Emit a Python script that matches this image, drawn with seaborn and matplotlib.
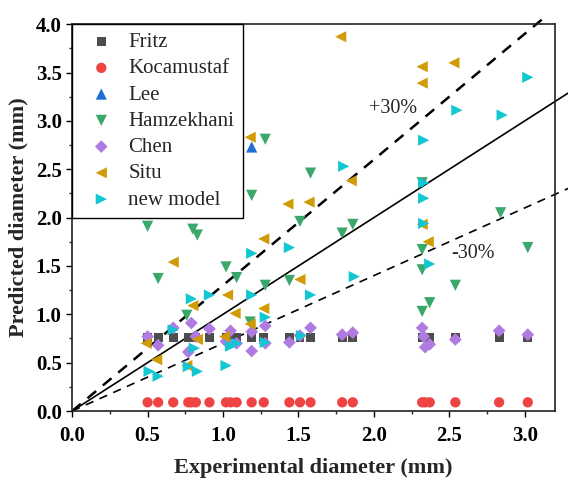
import numpy as np
import pandas as pd
import matplotlib
matplotlib.use("Agg")
import matplotlib.pyplot as plt
import seaborn as sns
from matplotlib.ticker import MultipleLocator

# ---------------- data ----------------
exp_x = [0.50, 0.57, 0.67, 0.77, 0.79, 0.82, 0.91, 1.02, 1.05, 1.09, 1.19, 1.27,
         1.44, 1.51, 1.58, 1.79, 1.86, 2.32, 2.34, 2.37, 2.54, 2.83, 3.02]

fritz_x = exp_x
fritz_y = [0.76] * len(exp_x)

koca_x = exp_x
koca_y = [0.09] * len(exp_x)

lee_x = [1.19]
lee_y = [2.73]

hamz_x = [0.50, 0.57, 0.76, 0.80, 0.83, 1.02, 1.09, 1.18, 1.19, 1.28, 1.28, 1.44,
          1.51, 1.58, 1.79, 1.86, 2.32, 2.32, 2.32, 2.32, 2.37, 2.54, 2.84, 3.02]
hamz_y = [1.91, 1.37, 0.99, 1.88, 1.82, 1.49, 1.38, 0.92, 2.23, 2.81, 1.30, 1.35,
          1.96, 2.46, 1.84, 1.93, 2.36, 1.67, 1.46, 1.03, 1.12, 1.30, 2.05, 1.69]

chen_x = [0.50, 0.57, 0.67, 0.77, 0.79, 0.82, 0.91, 1.02, 1.05, 1.09, 1.19, 1.19,
          1.28, 1.28, 1.44, 1.51, 1.58, 1.79, 1.86, 2.32, 2.33, 2.34, 2.37, 2.54,
          2.83, 3.02]
chen_y = [0.77, 0.68, 0.86, 0.61, 0.91, 0.77, 0.85, 0.72, 0.83, 0.70, 0.62, 0.82,
          0.88, 0.70, 0.71, 0.78, 0.86, 0.79, 0.81, 0.86, 0.77, 0.66, 0.69, 0.74,
          0.83, 0.79]

situ_x = [0.49, 0.56, 0.67, 0.76, 0.80, 0.83, 1.01, 1.03, 1.08, 1.18, 1.18, 1.27,
          1.27, 1.43, 1.51, 1.57, 1.78, 1.85, 2.32, 2.32, 2.32, 2.36, 2.53]
situ_y = [0.70, 0.53, 1.54, 0.47, 1.09, 0.74, 0.77, 1.20, 1.01, 0.90, 2.83, 1.78,
          1.06, 2.14, 1.36, 2.16, 3.87, 2.38, 3.56, 3.39, 1.93, 1.75, 3.60]

new_x = [0.51, 0.57, 0.67, 0.77, 0.79, 0.81, 0.83, 0.91, 1.02, 1.05, 1.09, 1.19,
         1.19, 1.28, 1.28, 1.44, 1.52, 1.58, 1.80, 1.87, 2.33, 2.33, 2.33, 2.33,
         2.37, 2.55, 2.85, 3.02]
new_y = [0.41, 0.36, 0.84, 0.46, 1.16, 0.65, 0.41, 1.20, 0.47, 0.67, 0.70, 1.20,
         1.63, 0.97, 0.71, 1.69, 0.78, 1.20, 2.53, 1.39, 2.80, 2.36, 2.20, 1.94,
         1.52, 3.11, 3.06, 3.45]

series_names = ["Fritz", "Kocamustaf", "Lee", "Hamzekhani", "Chen", "Situ", "new model"]
series_data = [(fritz_x, fritz_y), (koca_x, koca_y), (lee_x, lee_y), (hamz_x, hamz_y),
               (chen_x, chen_y), (situ_x, situ_y), (new_x, new_y)]

band_factors = [1.0, 1.3, 0.7]
band_labels = ["+30%", "-30%"]

# ---------------- style ----------------
sns.set_style("ticks")
plt.rcParams["font.family"] = ["Liberation Serif", "DejaVu Serif"]

colors = ["#4d4d4d", "#f04444", "#1f6ed6", "#3aa86a", "#b07be0", "#d19b05", "#12c6d2"]
markers = ["s", "o", "^", "v", "D", "<", ">"]
sizes = [40, 55, 65, 65, 42, 65, 65]

frames = []
for name, (xs, ys) in zip(series_names, series_data):
    frames.append(pd.DataFrame({"x": xs, "y": ys, "model": name}))
df = pd.concat(frames, ignore_index=True)

fig = plt.figure(figsize=(5.68, 4.83), dpi=100)
ax = fig.add_axes([0.127, 0.149, 0.850, 0.801])

for name, c, m, s in zip(series_names, colors, markers, sizes):
    sub = df[df["model"] == name]
    sns.scatterplot(data=sub, x="x", y="y", ax=ax, color=c, marker=m, s=s,
                    edgecolor="none", linewidth=0, label=name, zorder=3)

# reference lines
xs_full = np.array([0.0, 3.3])
ax.plot(xs_full, band_factors[0] * xs_full, color="black", lw=1.2, clip_on=False, zorder=2)
xs_up = np.array([0.0, 3.15])
ax.plot(xs_up, band_factors[1] * xs_up, color="black", lw=1.8, ls=(0, (4.5, 3.5)),
        clip_on=False, zorder=2)
ax.plot(xs_full, band_factors[2] * xs_full, color="black", lw=1.2, ls=(0, (5, 4)),
        clip_on=False, zorder=2)

ax.text(1.97, 3.13, band_labels[0], fontsize=14.5, ha="left", va="center")
ax.text(2.51, 1.63, band_labels[1], fontsize=14.5, ha="left", va="center")

ax.set_xlim(0, 3.2)
ax.set_ylim(0, 4.0)
ax.xaxis.set_major_locator(MultipleLocator(0.5))
ax.xaxis.set_minor_locator(MultipleLocator(0.25))
ax.yaxis.set_major_locator(MultipleLocator(0.5))
ax.yaxis.set_minor_locator(MultipleLocator(0.25))
ax.tick_params(axis="both", which="major", direction="out", length=4.5, width=1.0,
               labelsize=15, colors="black")
ax.tick_params(axis="x", which="major", pad=6)
ax.tick_params(axis="y", which="major", pad=3)
ax.tick_params(axis="both", which="minor", direction="out", length=2.5, width=1.0)
for lab in ax.get_xticklabels() + ax.get_yticklabels():
    lab.set_fontweight("bold")
for sp in ax.spines.values():
    sp.set_visible(True)
    sp.set_linewidth(1.2)
    sp.set_color("#222222")

ax.set_xlabel("Experimental diameter (mm)", fontsize=16, fontweight="bold", labelpad=9)
ax.set_ylabel("Predicted diameter (mm)", fontsize=16, fontweight="bold", labelpad=5)

leg = ax.legend(loc="upper left", bbox_to_anchor=(0, 1), borderaxespad=0,
                fontsize=15, frameon=True, fancybox=False, edgecolor="black",
                framealpha=1, labelspacing=0.32, handletextpad=0.3, borderpad=0.4)
leg.get_frame().set_linewidth(1.0)

fig.savefig("out.png", dpi=100)
